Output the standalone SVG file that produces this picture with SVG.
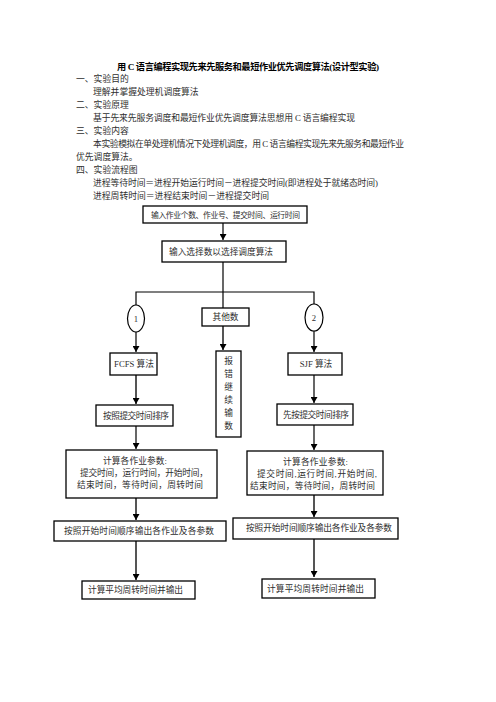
<svg xmlns="http://www.w3.org/2000/svg" width="496" height="702" viewBox="0 0 496 702">
<defs>
<style>
text{font-family:"Liberation Serif","Noto Sans CJK SC",serif;fill:#2e2e2e;}
.t{font-size:8.8px;}
.title{font-size:9.2px;font-weight:bold;fill:#000;}
.box{fill:#fff;stroke:#000;stroke-width:1.3;}
.ln{stroke:#000;stroke-width:1.2;fill:none;}
.lg{stroke:#555;stroke-width:2;fill:none;}
.bt{font-size:8.7px;}
.c{text-anchor:middle;}
</style>
<marker id="ah" markerUnits="userSpaceOnUse" markerWidth="7" markerHeight="7" refX="6" refY="3.5" orient="auto">
<path d="M0,0 L6,3.5 L0,7 Z" fill="#000"/>
</marker>
</defs>
<rect width="496" height="702" fill="#fff"/>

<g id="header">
<text class="title" x="117" y="70" textLength="262">用 C 语言编程实现先来先服务和最短作业优先调度算法(设计型实验)</text>
<text class="t" x="76" y="82">一、实验目的</text>
<text class="t" x="93" y="95">理解并掌握处理机调度算法</text>
<text class="t" x="76" y="108">二、实验原理</text>
<text class="t" x="93" y="121" textLength="262">基于先来先服务调度和最短作业优先调度算法思想用 C 语言编程实现</text>
<text class="t" x="76" y="134">三、实验内容</text>
<text class="t" x="93" y="147" textLength="311">本实验模拟在单处理机情况下处理机调度，用  C  语言编程实现先来先服务和最短作业</text>
<text class="t" x="76" y="160">优先调度算法。</text>
<text class="t" x="76" y="173">四、实验流程图</text>
<text class="t" x="93" y="186" textLength="285">进程等待时间＝进程开始运行时间－进程提交时间(即进程处于就绪态时间)</text>
<text class="t" x="93" y="199" textLength="176">进程周转时间＝进程结束时间－进程提交时间</text>
</g>

<g id="connectors">
<line class="ln" x1="223" y1="223" x2="223" y2="240" marker-end="url(#ah)"/>
<line class="ln" x1="223" y1="262" x2="223" y2="308"/>
<polyline class="ln" points="136,305 136,292 314,292 314,304"/>
<line class="ln" x1="136" y1="332" x2="136" y2="352" marker-end="url(#ah)"/>
<line class="ln" x1="314" y1="331" x2="314" y2="352" marker-end="url(#ah)"/>
<line class="lg" x1="223" y1="326" x2="223" y2="350" marker-end="url(#ah)"/>
<line class="lg" x1="136" y1="375" x2="136" y2="404" marker-end="url(#ah)"/>
<line class="ln" x1="314" y1="375" x2="314" y2="403" marker-end="url(#ah)"/>
<line class="ln" x1="136" y1="426" x2="136" y2="449" marker-end="url(#ah)"/>
<line class="ln" x1="314" y1="425" x2="314" y2="450" marker-end="url(#ah)"/>
<line class="lg" x1="136" y1="498" x2="136" y2="520" marker-end="url(#ah)"/>
<line class="lg" x1="314" y1="495" x2="314" y2="517" marker-end="url(#ah)"/>
<line class="lg" x1="136" y1="541" x2="136" y2="580" marker-end="url(#ah)"/>
<line class="lg" x1="314" y1="539" x2="314" y2="577" marker-end="url(#ah)"/>
</g>

<g id="n-input">
<rect class="box" x="143" y="206" width="164" height="17"/>
<text x="151" y="218" style="font-size:7.8px" textLength="149">输入作业个数、作业号、提交时间、运行时间</text>
</g>
<g id="n-select">
<rect class="box" x="162" y="241" width="124" height="21"/>
<text class="bt" x="169" y="255" textLength="104">输入选择数以选择调度算法</text>
</g>
<g id="n-c1">
<ellipse class="ln" cx="136" cy="318.5" rx="8.5" ry="13.5" fill="#fff"/>
<text class="bt c" x="136" y="322">1</text>
</g>
<g id="n-c2">
<ellipse class="ln" cx="314" cy="317.5" rx="9" ry="13.5" fill="#fff"/>
<text class="bt c" x="314" y="321">2</text>
</g>
<g id="n-other">
<rect class="box" x="202" y="308" width="47" height="18"/>
<text class="bt c" x="225.5" y="320">其他数</text>
</g>
<g id="n-error">
<rect class="box" x="216" y="351" width="25" height="86"/>
<text class="bt c" x="228.5" y="364">报</text>
<text class="bt c" x="228.5" y="377">错</text>
<text class="bt c" x="228.5" y="390">继</text>
<text class="bt c" x="228.5" y="403">续</text>
<text class="bt c" x="228.5" y="416">输</text>
<text class="bt c" x="228.5" y="429">数</text>
</g>
<g id="n-fcfs">
<rect class="box" x="110" y="353" width="47" height="22"/>
<text class="bt c" x="134" y="367">FCFS 算法</text>
</g>
<g id="n-sjf">
<rect class="box" x="288" y="353" width="54" height="22"/>
<text class="bt c" x="316" y="367">SJF 算法</text>
</g>
<g id="n-sort1">
<rect class="box" x="96" y="405" width="77" height="21"/>
<text class="bt" x="103" y="419" textLength="66">按照提交时间排序</text>
</g>
<g id="n-sort2">
<rect class="box" x="277" y="404" width="76" height="21"/>
<text class="bt" x="283" y="418" textLength="66">先按提交时间排序</text>
</g>
<g id="n-calc1">
<rect class="box" x="66" y="450" width="151" height="48"/>
<text class="bt" x="103" y="464" textLength="64">计算各作业参数:</text>
<text class="bt" x="80" y="476" textLength="128">提交时间，运行时间，开始时间，</text>
<text class="bt" x="77" y="488" textLength="126">结束时间，等待时间，周转时间</text>
</g>
<g id="n-calc2">
<rect class="box" x="247" y="451" width="136" height="44"/>
<text class="bt" x="283" y="465" textLength="65">计算各作业参数:</text>
<text class="bt" x="257" y="477" textLength="120">提交时间,运行时间,开始时间,</text>
<text class="bt" x="250" y="489" textLength="125">结束时间，等待时间，周转时间</text>
</g>
<g id="n-out1">
<rect class="box" x="54" y="521" width="172" height="20"/>
<text class="bt" x="64" y="534" textLength="150">按照开始时间顺序输出各作业及各参数</text>
</g>
<g id="n-out2">
<rect class="box" x="233" y="518" width="165" height="21"/>
<text class="bt" x="246" y="531" textLength="146">按照开始时间顺序输出各作业及各参数</text>
</g>
<g id="n-avg1">
<rect class="box" x="82" y="581" width="113" height="18"/>
<text class="bt" x="88" y="593" textLength="95">计算平均周转时间并输出</text>
</g>
<g id="n-avg2">
<rect class="box" x="262" y="579" width="113" height="19"/>
<text class="bt" x="267" y="592" textLength="97">计算平均周转时间并输出</text>
</g>
</svg>
